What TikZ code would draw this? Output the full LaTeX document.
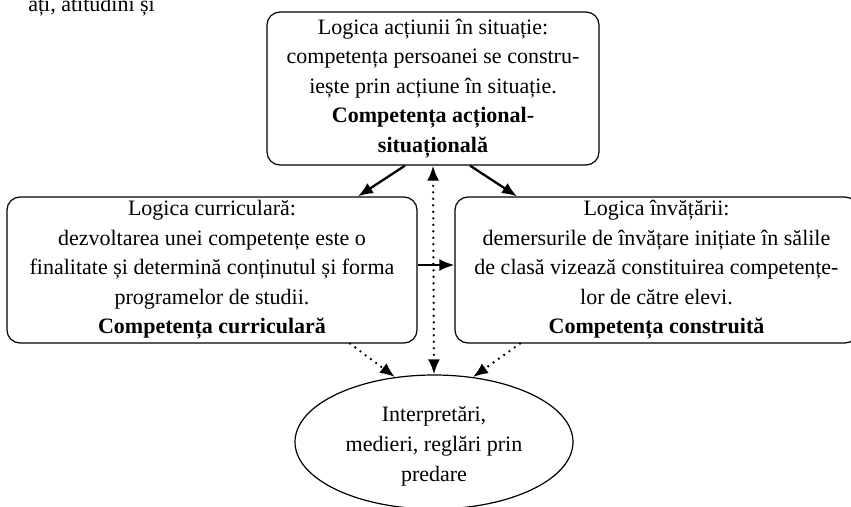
\documentclass[tikz,border=0pt]{standalone}
\usepackage{fontspec}
\setmainfont{Liberation Serif}
\usetikzlibrary{arrows.meta,shapes.geometric,calc}
\begin{document}
\begin{tikzpicture}[x=1pt,y=-1pt,
  box/.style={draw,line width=1.2pt,rounded corners=13pt,align=center,inner sep=0pt,
    font=\fontsize{22}{29.5}\selectfont},
  txt/.style={align=center,inner sep=0pt,font=\fontsize{22}{29.5}\selectfont},
  solidarrow/.style={line width=2.3pt,-{Latex[length=15pt,width=12pt]}},
  dotarrow/.style={line width=2.6pt,line cap=round,dash pattern=on 0pt off 6.5pt,
    -{Latex[length=15pt,width=12pt]}},
  dotboth/.style={line width=2.6pt,line cap=round,dash pattern=on 0pt off 6.5pt,
    {Latex[length=15pt,width=12pt]}-{Latex[length=15pt,width=12pt]}}]
\useasboundingbox (0,0) rectangle (851,506);
\node[txt,anchor=base east] (frag) at (155,12) {ați, atitudini și};
\node[box,minimum width=332pt,minimum height=153pt] (top) at (433,88.5)
  {Logica acțiunii în situație:\\competența persoanei se constru-\\iește prin acțiune în situație.\\\textbf{Competența acțional-}\\\textbf{situațională}};
\node[box,minimum width=410pt,minimum height=146pt] (left) at (212,270)
  {Logica curriculară:\\dezvoltarea unei competențe este o\\finalitate și determină conținutul și forma\\programelor de studii.\\\textbf{Competența curriculară}};
\node[box,minimum width=403pt,minimum height=146pt] (right) at (656.5,270)
  {Logica învățării:\\demersurile de învățare inițiate în sălile\\de clasă vizează constituirea competențe-\\lor de către elevi.\\\textbf{Competența construită}};
\node[draw,line width=1.2pt,ellipse,minimum width=278pt,minimum height=134pt,inner sep=0pt] (ell) at (434,442) {};
\node[txt,font=\fontsize{22}{30}\selectfont] (ellt) at (434,446) {Interpretări,\\medieri, reglări prin\\predare};
\draw[solidarrow] ([xshift=-28pt]top.south) -- ([xshift=146pt]left.north);
\draw[solidarrow] ([xshift=37pt]top.south) -- ([xshift=-139.5pt]right.north);
\draw[solidarrow] ([yshift=5pt]left.east) -- ([yshift=5pt]right.west);
\draw[dotboth] (top.south) -- (ell.north);
\draw[dotarrow] ([xshift=138pt]left.south) -- (ell.121);
\draw[dotarrow] ([xshift=-136.5pt]right.south) -- (ell.59);
\end{tikzpicture}
\end{document}
